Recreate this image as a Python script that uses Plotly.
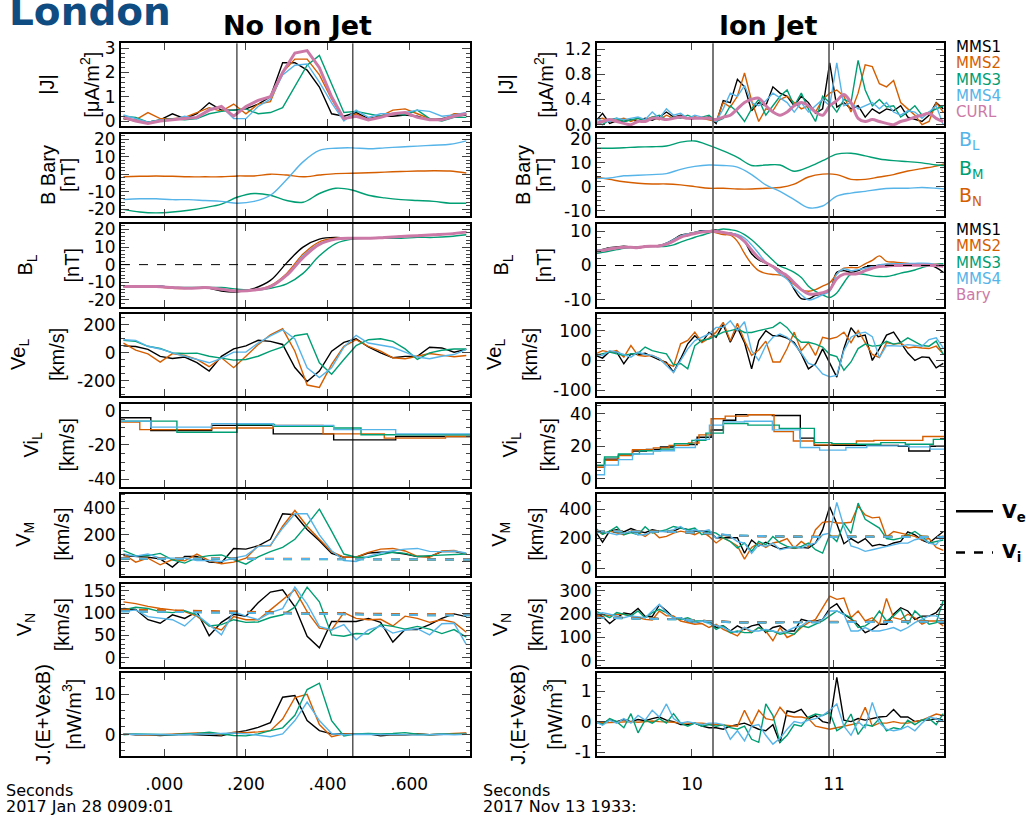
import plotly.graph_objects as go

W, H = 1026, 825
TICK_FONT = dict(family="DejaVu Sans", size=17, color="black")
TITLE_FONT = dict(family="Liberation Sans", size=20, color="black")
K1, K2, K3, K4, KC = "#000000", "#d55e00", "#009e73", "#56b4e9", "#cc79a7"

# ---------------- sample times ----------------
T_L = [round(-0.10 + 0.03 * k, 3) for k in range(29)]
TB_L = [round(-0.10 + 0.04 * k, 3) for k in range(22)]
T_R = [round(9.32 + 0.05 * k, 3) for k in range(50)]
TB_R = [round(9.32 + 0.1 * k, 2) for k in range(25)] + [11.78]

# ---------------- No Ion Jet (left) ----------------
J_L1 = [0.1,0.0,-0.05,0.05,0.3,0.1,0.3,0.75,0.45,0.45,0.5,0.7,1.0,2.4,2.4,2.1,1.4,0.3,0.2,0.35,0.1,0.2,0.2,0.25,0.2,0.05,0.1,0.2,0.25]
J_L2 = [0.1,0.05,0.35,0.1,0.1,0.15,0.35,0.55,0.4,0.7,0.3,0.7,0.8,2.0,2.55,2.55,1.9,0.9,0.05,0.3,0.05,0.2,0.45,0.5,0.3,0.1,0.05,0.3,0.3]
J_L3 = [0.2,0.15,-0.05,0.05,0.1,0.05,0.1,0.3,0.4,0.45,0.5,0.3,0.35,0.55,1.4,2.3,2.7,1.5,0.35,0.4,0.3,0.2,0.3,0.25,0.45,0.1,0.0,0.15,0.15]
J_L4 = [0.25,0.1,-0.05,0.05,0.05,0.2,0.1,0.5,0.6,0.1,0.1,0.6,0.9,1.9,2.3,2.35,1.6,0.75,0.0,0.45,0.15,0.3,0.3,0.35,0.45,0.4,0.2,0.25,0.35]
J_LC = [0.15,0.0,-0.1,0.0,0.05,0.1,0.15,0.45,0.6,0.2,0.6,0.85,1.0,2.0,2.8,2.9,2.2,1.0,0.1,0.2,0.05,0.15,0.3,0.35,0.15,0.05,0.05,0.2,0.3]

BBAR_L_BL = [-14.5,-14,-14,-14.5,-14.5,-15,-15.5,-16.5,-15.5,-12,-3,7,13.5,14.8,15,14.5,15,15.5,16,16.5,17,19]
BBAR_L_BM = [-20,-21.5,-22,-21.5,-20.5,-19,-17,-13,-11,-12,-15,-16,-11,-8,-9,-12,-13.5,-14.5,-15,-15.5,-16.5,-16.5]
BBAR_L_BN = [-1.5,-1.2,-1,-1.2,-1.5,-1.5,-1.5,-1,-1,0,-0.5,-1.5,-0.5,0.3,0.5,0.8,1.2,1.5,1.8,2,1.8,0.7]

BL_L1 = [-12.5,-12.5,-12,-13,-13.5,-13,-15,-15.5,-13.5,-9,1,10,14.5,15.5,15,15,15.5,16,16.5,17,17.5,18.5]
BL_L2 = [-12.5,-12.5,-12.5,-13.5,-13.5,-13,-14,-15,-14.5,-12,-5,6,13,15,15,15,15.5,16,16.5,17,17.5,18.5]
BL_L3 = [-12.5,-12.5,-12.5,-13,-13,-13,-13,-14,-14.5,-13.5,-11,-5,5,12,14.5,15,15,15,15.5,15.5,16,17]
BL_L4 = [-12.5,-12.5,-12,-13,-13.5,-13,-14,-15,-14.5,-12.5,-6,5,12,14.5,15,15,15.5,16,16.5,17,17.5,18.5]
BL_LB = [-12.5,-12.5,-12.5,-13,-13.5,-13,-14,-15,-14.5,-12.5,-6,4,11.5,14.5,15,15,15.5,16,16.5,17,17.5,18.5]

VEL_L1 = [50,45,25,-25,-40,-30,-70,-130,-25,28,50,90,82,60,-105,-205,-130,12,75,100,42,0,-35,-25,-25,40,35,5,25]
VEL_L2 = [70,19,-7,-66,-5,-19,-47,-99,-35,-106,-24,59,129,172,12,-230,-247,-82,47,94,47,12,-35,-42,-24,-5,-16,-28,-19]
VEL_L3 = [89,82,47,31,0,-5,-2,-24,-38,-52,-47,-24,12,42,122,136,-71,-153,-47,52,94,101,82,28,-47,0,19,28,28]
VEL_L4 = [94,89,47,28,0,-24,-47,-71,-40,5,5,70,122,165,100,-106,-176,-106,40,125,70,55,40,5,-30,-42,-24,-12,25]

VIL_L1_T = [-0.106,-0.033,0.116,0.267,0.415,0.567,0.749]
VIL_L1 = [-4,-11.5,-8.5,-13.5,-17,-15,-15]
VIL_L2_T = [-0.106,-0.06,0.116,0.267,0.389,0.539,0.689,0.749]
VIL_L2 = [-6.5,-11,-10,-8.5,-13.5,-16,-15,-15]
VIL_L3_T = [-0.106,0.031,0.178,0.27,0.415,0.482,0.749]
VIL_L3 = [-6,-12.5,-8,-9,-10,-14,-14]
VIL_L4_T = [-0.106,-0.033,0.116,0.267,0.415,0.567,0.749]
VIL_L4 = [-6,-9.5,-7.5,-8.5,-11,-13.5,-13.5]

VM_L1 = [44,39,32,20,-42,37,37,-5,-10,98,93,118,167,358,351,240,155,61,32,32,64,69,69,56,37,37,74,76,56]
VM_L2 = [56,-5,25,-25,15,5,56,7,-17,-5,25,118,118,265,383,265,167,74,32,32,69,93,98,79,39,32,79,83,56]
VM_L3 = [81,44,44,61,12,-12,29,44,49,12,-20,34,74,106,167,277,393,228,56,32,32,52,69,61,37,44,49,49,56]
VM_L4 = [56,39,56,25,25,25,7,7,0,25,44,113,123,250,358,358,200,81,7,0,39,64,81,93,98,76,74,79,64]

VN_L1 = [110,108,85,77,96,88,103,49,79,97,93,123,147,152,114,48,22,81,81,81,88,79,35,63,63,74,88,98,92]
VN_L2 = [125,121,115,110,107,103,93,71,62,92,85,85,107,129,152,103,66,62,101,88,85,86,71,93,88,79,85,79,57]
VN_L3 = [107,113,110,103,101,105,96,71,74,85,79,80,90,96,113,158,125,51,48,54,53,74,70,64,70,64,54,63,46]
VN_L4 = [103,107,92,88,85,71,96,74,51,103,93,85,101,110,158,120,70,62,74,40,62,71,55,62,65,51,76,77,29]

TVI_L = [-0.106,0.05,0.2,0.35,0.5,0.65,0.749]
VIM_L1 = [22,20,19,18,17,16,16]
VIM_L2 = [24,22,20,18,17,16,16]
VIM_L3 = [20,19,18,17,16,15,15]
VIM_L4 = [22,21,19,18,17,16,15]
VIN_L1 = [105,103,101,99,97,96,96]
VIN_L2 = [108,106,103,100,98,97,97]
VIN_L3 = [104,102,100,98,96,95,95]
VIN_L4 = [104,102,100,98,96,95,95]

JE_L1 = [0.2,0.0,0.0,-0.2,0.0,0.1,0.0,-0.1,-0.3,0.5,1.0,1.8,3.0,9.3,9.7,3.5,1.0,0.2,0.2,0.1,0.2,-0.3,0.0,-0.1,0.2,0.0,0.1,0.2,0.3]
JE_L2 = [0.2,0.0,-0.1,0.0,0.1,0.2,0.4,0.3,0.0,0.6,0.5,0.7,1.0,3.9,9.2,10.0,2.5,-0.5,0.2,0.2,0.1,0.1,0.0,0.0,0.1,0.0,0.2,0.3,0.4]
JE_L3 = [0.0,0.2,0.1,0.0,0.0,0.2,0.3,0.6,0.2,-0.2,-0.3,0.2,1.0,1.7,4.8,11.2,12.8,3.5,-0.3,0.2,0.3,0.2,0.3,0.5,0.1,0.0,0.2,0.1,0.2]
JE_L4 = [0.1,0.1,0.0,0.0,0.1,0.0,0.2,0.1,0.3,0.4,0.2,-0.2,-0.5,0.2,3.5,8.1,3.5,0.3,0.0,0.1,0.1,0.0,0.1,0.0,-0.1,0.0,0.1,0.0,0.1]

# ---------------- Ion Jet (right) ----------------
J_R1 = [0.05,0.18,0.02,0.06,0.05,0.08,0.05,0.1,0.07,0.12,0.2,0.12,0.15,0.1,0.12,0.1,0.12,0.02,0.38,0.35,0.72,0.6,0.22,0.35,0.3,0.6,0.5,0.45,0.3,0.45,0.35,0.18,0.25,0.98,0.28,0.35,0.25,0.3,0.12,0.25,0.18,0.25,0.22,0.3,0.12,0.08,0.05,0.15,0.35,0.25]
J_R2 = [0.08,0.1,0.05,0.08,0.1,0.05,0.1,0.08,0.12,0.08,0.15,0.1,0.12,0.1,0.12,0.1,0.08,0.05,0.35,0.28,0.45,0.82,0.38,0.05,0.25,0.22,0.4,0.45,0.35,0.25,0.3,0.2,0.4,0.5,0.55,0.45,0.2,0.5,0.95,0.92,0.65,0.6,0.7,0.35,0.25,0.15,0.0,0.05,0.35,0.2]
J_R3 = [0.05,0.0,0.08,0.1,0.05,0.08,0.1,0.05,0.12,0.15,0.08,0.12,0.1,0.15,0.1,0.12,0.15,0.05,0.1,0.3,0.2,0.05,0.25,0.4,0.15,0.3,0.45,0.55,0.3,0.5,0.25,0.05,0.45,0.35,0.2,0.4,0.35,1.02,0.55,0.3,0.4,0.28,0.3,0.12,0.2,0.3,0.15,0.2,0.25,0.3]
J_R4 = [0.1,0.05,0.05,0.1,0.08,0.1,0.12,0.08,0.2,0.1,0.25,0.15,0.18,0.1,0.15,0.12,0.1,0.05,0.25,0.5,0.45,0.62,0.35,0.3,0.38,0.5,0.42,0.35,0.2,0.35,0.2,0.3,0.4,0.3,0.98,0.3,0.35,0.25,0.3,0.35,0.25,0.35,0.2,0.15,0.22,0.2,0.1,0.2,0.3,0.0]
J_RC = [0.02,0.05,0.08,0.05,0.02,0.0,0.05,0.05,0.1,0.1,0.08,0.1,0.12,0.1,0.1,0.1,0.1,0.08,0.12,0.15,0.25,0.35,0.4,0.42,0.3,0.2,0.15,0.2,0.3,0.35,0.3,0.2,0.15,0.3,0.38,0.48,0.35,0.1,0.05,0.08,0.05,0.02,0.0,0.05,0.08,0.12,0.15,0.18,0.1,0.05]

BBAR_R_BL = [3.4,3.6,4.5,4.7,5,5.4,7.2,8.4,9,8.8,8.1,5,0.7,-2,-5.4,-8.8,-8.1,-4,-2.7,-2,-1.1,-0.7,-0.7,-0.4,-0.7,-1]
BBAR_R_BM = [16,16,16.2,16.5,16.6,16.9,18.5,19,17.2,14.9,12.2,8.8,9,9,6.4,8.1,10.8,13.5,13.9,12.8,11.5,10.8,10.4,9.9,9,8.8]
BBAR_R_BN = [4,3,2,1.4,1.1,1.1,0.7,0,-0.7,-0.7,-1,-1,-0.7,-0.4,1.0,4.0,5.2,5.0,3.0,3.0,4.0,5.0,6.5,7.5,8.5,9.5]

BL_R1 = [4.3,4.7,5.2,5.4,5.6,5.4,5.2,5.6,5.6,5.8,6.5,7.6,8.8,9.2,9.6,10.1,10.1,10.3,9.6,9.4,8.8,7.0,3.4,1.6,0.7,-0.2,-1.5,-3.3,-6.9,-9.6,-9.7,-8.7,-8.2,-7.3,-2.0,-1.5,-2.0,-1.5,-0.4,-0.2,0.1,0.3,0.3,0.3,0.3,0.3,0.1,0.1,-0.6,-2.0]
BL_R2 = [4.0,4.5,5.0,5.2,5.4,5.4,5.2,5.4,5.6,5.8,6.3,7.4,8.6,9.2,9.6,9.8,9.9,9.5,9.0,8.8,7.0,3.5,0.5,-1.5,-2.3,-2.6,-2.8,-3.5,-5.5,-7.0,-7.5,-7.0,-6.0,-5.0,-2.5,-0.8,-0.6,-0.6,0.5,1.5,2.8,1.2,1.0,0.8,0.6,0.5,0.4,0.3,0.4,0.4]
BL_R3 = [3.5,3.8,4.2,4.6,5.0,5.2,5.4,5.5,5.6,5.5,5.6,6.0,6.8,7.5,8.2,8.8,9.4,10.2,10.6,10.4,10.0,9.0,7.5,5.6,3.5,1.5,-0.2,-1.0,-2.0,-3.5,-6.0,-7.5,-8.5,-9.3,-8.0,-5.0,-2.5,-2.4,-2.6,-3.0,-3.2,-3.2,-2.8,-2.2,-1.8,-1.3,-0.6,0.0,0.3,0.5]
BL_R4 = [4.5,4.6,5.0,5.2,5.3,5.3,5.0,5.5,5.5,5.8,6.5,7.5,8.6,9.2,9.6,10.0,10.1,10.0,9.6,9.3,9.0,8.0,6.0,3.5,1.0,-0.5,-2.5,-4.0,-6.5,-8.5,-10.0,-9.5,-8.5,-7.5,-2.5,-1.0,-1.5,-1.2,-0.8,-0.3,0.2,0.4,0.5,0.5,0.6,0.6,0.7,0.6,0.3,0.0]
BL_RB = [4.1,4.4,4.8,5.1,5.3,5.3,5.2,5.5,5.6,5.7,6.2,7.1,8.2,8.8,9.3,9.7,9.9,9.9,9.6,9.2,8.6,7.0,4.5,2.2,0.8,-0.3,-1.8,-3.0,-5.0,-7.0,-8.2,-8.3,-7.9,-7.0,-3.8,-2.5,-2.5,-2.3,-1.5,-0.8,-0.3,-0.2,0.0,0.0,0.1,0.1,0.1,0.1,0.0,-0.2]

VEL_R1 = [17,8,30,28,-11,22,20,24,13,2,-6,-39,6,56,83,61,94,78,120,61,110,60,-28,67,100,83,83,75,60,22,-28,-11,39,-6,-56,40,110,80,85,0,40,85,95,60,25,0,12,10,-25,-10]
VEL_R2 = [22,33,28,33,11,50,17,14,17,6,-11,-20,56,67,95,60,75,95,128,65,125,66,17,35,65,-5,-5,40,95,33,60,17,78,72,78,95,60,100,60,20,10,60,55,58,42,45,42,40,48,22]
VEL_R3 = [17,22,28,22,17,22,24,45,33,27,22,-15,-10,-28,50,68,72,83,95,100,106,94,94,100,106,111,128,110,80,61,61,55,45,20,13,-33,-5,40,55,48,50,64,55,60,76,62,50,48,65,20]
VEL_R4 = [22,17,33,28,20,11,28,20,17,6,-17,-40,0,39,67,78,89,111,111,133,100,130,33,0,50,78,89,78,55,25,-10,-17,-45,-55,-50,33,78,90,95,80,10,50,50,48,53,50,48,70,76,42]

VIL_R1_T = [9.319,9.384,9.482,9.581,9.679,9.778,9.876,9.975,10.036,10.135,10.221,10.308,10.566,10.763,10.862,11.158,11.453,11.527,11.675,11.786]
VIL_R1 = [8,12,14.5,17,18,19.5,20.5,21,25.5,30,36,39.5,39,25,20.5,20.5,20,17,20,20]
VIL_R2_T = [9.319,9.384,9.482,9.581,9.728,9.839,9.975,10.049,10.135,10.234,10.394,10.578,10.714,10.862,10.985,11.158,11.281,11.626,11.786]
VIL_R2 = [7,11.3,14.3,17.8,19,20.5,22,27,37,38.6,39.4,29,23.2,20.8,21.2,23.2,23.6,26,26]
VIL_R3_T = [9.319,9.384,9.482,9.63,9.778,9.876,9.999,10.098,10.221,10.394,10.615,10.862,10.985,11.158,11.33,11.503,11.7,11.786]
VIL_R3 = [8.3,13.3,15.2,17.2,18.2,21.6,23.6,28.1,34,33,31,22.2,21.6,21.2,22.2,21.2,24.2,24.2]
VIL_R4_T = [9.319,9.384,9.482,9.581,9.728,9.876,10.024,10.123,10.221,10.369,10.566,10.763,10.899,11.084,11.231,11.527,11.675,11.786]
VIL_R4 = [2.4,8.3,11.7,15.2,17.2,19.2,24.2,33,35,35.4,30.1,19.2,17.6,19.2,20.2,19.6,18.2,18.2]

VM_R1 = [248,175,250,260,245,268,250,240,260,250,248,250,272,260,250,250,248,205,205,208,205,100,190,150,175,150,130,140,135,140,135,170,260,415,300,165,200,170,200,150,160,150,170,180,245,225,190,170,210,248]
VM_R2 = [260,230,250,240,226,250,240,214,250,205,215,237,250,240,226,250,215,170,205,180,150,60,140,170,140,170,180,200,135,180,145,260,310,316,305,305,310,420,360,340,345,210,248,237,226,215,190,200,140,120]
VM_R3 = [270,230,250,280,226,240,226,280,237,248,260,282,271,260,271,226,248,237,205,180,135,170,113,180,158,214,170,147,135,147,170,124,101,226,180,305,235,440,330,300,271,200,192,203,226,248,214,169,180,190]
VM_R4 = [237,248,237,226,237,248,226,226,248,248,248,260,282,248,260,248,260,203,226,214,180,169,100,158,147,169,124,135,147,135,158,169,226,237,445,280,150,135,113,124,135,147,158,169,169,192,203,169,158,220]

VN_R1 = [207,190,160,185,205,200,225,190,190,240,215,185,185,170,164,170,172,143,150,128,150,135,150,157,121,143,150,128,128,178,170,170,178,225,245,200,180,155,121,135,157,157,200,228,214,178,192,192,207,245]
VN_R2 = [193,200,193,200,200,193,185,178,175,214,193,193,171,164,157,160,143,157,135,121,107,143,121,143,128,86,143,100,114,143,164,178,228,278,264,270,185,214,171,185,157,268,185,178,200,185,157,171,171,150]
VN_R3 = [214,200,185,207,200,193,214,185,207,221,207,185,178,185,171,171,164,135,150,121,128,121,121,143,128,128,114,121,114,150,143,157,171,193,214,200,185,143,150,171,214,171,193,221,157,214,185,157,164,260]
VN_R4 = [200,207,200,193,185,193,190,185,214,243,207,185,185,171,164,171,160,150,143,128,121,143,128,128,135,128,121,128,143,150,171,164,178,214,214,200,128,128,143,128,128,135,143,128,143,164,178,193,193,171]

TVI_R = [9.32,9.6,9.9,10.1,10.3,10.6,10.9,11.2,11.5,11.78]
VIM_R1 = [249,247,244,233,219,214,210,212,212,211]
VIM_R2 = [252,250,246,232,218,214,212,214,214,212]
VIM_R3 = [250,248,245,234,220,215,211,213,213,211]
VIM_R4 = [250,248,245,235,220,215,210,212,212,210]
VIN_R1 = [186,183,179,171,166,166,166,169,169,169]
VIN_R2 = [187,184,179,171,166,166,166,169,170,170]
VIN_R3 = [185,182,178,170,165,165,165,168,168,168]
VIN_R4 = [185,182,178,170,165,165,165,168,168,168]

JE_R1 = [0,-0.05,0.05,0,0.07,0,0.07,0.03,0.1,0.15,0.05,0,-0.1,-0.1,-0.05,-0.15,-0.2,-0.2,-0.25,-0.15,-0.1,-0.05,-0.15,-0.25,-0.3,-0.1,-0.7,0.35,0.3,0.4,0.1,0.2,0.0,-0.05,1.45,0.05,0.0,0.1,0.05,0.1,0.15,0.17,0.4,0.15,0.15,0.0,0.05,0.05,0.1,0.05]
JE_R2 = [-0.05,-0.05,-0.03,-0.02,0.0,0.0,-0.02,0.0,0.02,0.0,0.0,-0.02,-0.05,-0.05,-0.05,-0.05,-0.08,-0.1,-0.1,-0.12,-0.15,0.37,-0.1,0.37,0.1,0.05,0.47,0.2,0.15,0.15,0.1,-0.15,-0.2,-0.25,-0.2,-0.15,-0.1,-0.05,0.47,-0.15,-0.05,-0.05,0.0,-0.05,-0.05,0.0,0.05,0.15,0.25,0.2]
JE_R3 = [0,-0.1,0.1,0,-0.2,0.26,-0.37,0.05,-0.05,0.1,-0.05,0.26,-0.05,-0.15,-0.05,-0.15,-0.1,-0.15,-0.1,-0.2,-0.25,-0.15,-0.58,-0.68,0.58,0.2,-0.68,-0.45,-0.1,-0.15,0.15,0.25,0.2,0.3,-0.3,-0.15,0.25,-0.42,-0.1,-0.15,0.1,-0.3,-0.2,-0.25,0.05,-0.1,0.05,0.1,-0.1,0.26]
JE_R4 = [0,-0.12,0.05,-0.05,0.1,-0.05,0.2,0.05,0.37,0.15,0.58,0.1,-0.05,0,-0.05,-0.1,-0.05,-0.05,-0.1,-0.58,-0.3,-0.63,-0.15,-0.1,-0.45,-0.74,-0.55,-0.25,0,-0.05,0.05,0.1,0.2,0.37,0.58,-0.15,-0.45,0,-0.2,0.63,-0.05,-0.25,-0.3,-0.25,-0.15,-0.3,-0.05,0.15,0.1,0]

# event boundaries
EVT_L = [0.178, 0.462]
EVT_R = [10.148, 10.965]

# ---------------- layout geometry (pixels) ----------------
COLS = {"L": (121, 470), "R": (597, 944)}
XRANGE = {"L": [-0.106, 0.749], "R": [9.331, 11.775]}
XTICKS = {"L": ([0, 0.2, 0.4, 0.6], [".000", ".200", ".400", ".600"]),
          "R": ([10, 11], ["10", "11"])}
ROW_TOP = [39, 131, 223, 314, 406, 497, 589, 680]
ROW_H = 84

# per-panel y axis: range, major tick values, minor step, title lines and their x
PANELS = {
    "L": [
        ([-0.2, 3.2], [0, 1, 2, 3], 0.2, "|J|", "[μA/m<sup>2</sup>]", 47, 90),
        ([-24, 23], [-20, -10, 0, 10, 20], 2, "B Bary", "[nT]", 48, 68),
        ([-24, 23], [-20, -10, 0, 10, 20], 2, "B<sub>L</sub>", "[nT]", 27, 72),
        ([-310, 280], [-200, 0, 200], 50, "Ve<sub>L</sub>", "[km/s]", 20, 57),
        ([-44.5, 4], [-40, -20, 0], 5, "Vi<sub>L</sub>", "[km/s]", 32, 67),
        ([-110, 510], [0, 200, 400], 50, "V<sub>M</sub>", "[km/s]", 25, 62),
        ([-20, 165], [0, 50, 100, 150], 10, "V<sub>N</sub>", "[km/s]", 25, 62),
        ([-5.3, 15.2], [0, 10], 2, "J.(E+VexB)", "[nW/m<sup>3</sup>]", 43, 72),
    ],
    "R": [
        ([-0.02, 1.29], [0.0, 0.4, 0.8, 1.2], 0.1, "|J|", "[μA/m<sup>2</sup>]", 506, 544),
        ([-12.4, 22], [-10, 0, 10, 20], 2, "B Bary", "[nT]", 523, 544),
        ([-12, 12], [-10, 0, 10], 2, "B<sub>L</sub>", "[nT]", 503, 544),
        ([-120, 157], [-100, 0, 100], 20, "Ve<sub>L</sub>", "[km/s]", 496, 530),
        ([-5, 46], [0, 20, 40], 5, "Vi<sub>L</sub>", "[km/s]", 511, 548),
        ([-55, 505], [0, 200, 400], 50, "V<sub>M</sub>", "[km/s]", 501, 536),
        ([-25, 330], [0, 100, 200, 300], 20, "V<sub>N</sub>", "[km/s]", 501, 536),
        ([-1.13, 1.58], [-1, 0, 1], 0.2, "J.(E+VexB)", "[nW/m<sup>3</sup>]", 518, 553),
    ],
}


def ax_id(col, row):
    return row + 1 + (0 if col == "L" else 8)


def ref(prefix, n):
    return prefix if n == 1 else f"{prefix}{n}"


def fmt(v, col, row):
    if col == "R" and row == 0:
        return f"{v:.1f}"
    return str(int(v))


fig = go.Figure()


def add(col, row, x, y, color, width=1.4, dash="solid", shape="linear"):
    n = ax_id(col, row)
    fig.add_trace(go.Scatter(
        x=x, y=y, mode="lines",
        line=dict(color=color, width=width, dash=dash, shape=shape),
        xaxis=ref("x", n), yaxis=ref("y", n), showlegend=False, hoverinfo="skip"))


SC = [K1, K2, K3, K4]

# left column
for ys, c in zip([J_L1, J_L2, J_L3, J_L4], SC):
    add("L", 0, T_L, ys, c)
add("L", 0, T_L, J_LC, KC, width=3)
for ys, c in zip([BBAR_L_BN, BBAR_L_BM, BBAR_L_BL], [K2, K3, K4]):
    add("L", 1, TB_L, ys, c, shape="spline")
for ys, c in zip([BL_L1, BL_L2, BL_L3, BL_L4], SC):
    add("L", 2, TB_L, ys, c, shape="spline")
add("L", 2, TB_L, BL_LB, KC, width=3, shape="spline")
for ys, c in zip([VEL_L1, VEL_L2, VEL_L3, VEL_L4], SC):
    add("L", 3, T_L, ys, c)
for ts, ys, c in zip([VIL_L1_T, VIL_L2_T, VIL_L3_T, VIL_L4_T], [VIL_L1, VIL_L2, VIL_L3, VIL_L4], SC):
    add("L", 4, ts, ys, c, shape="hv")
for ys, c in zip([VM_L1, VM_L2, VM_L3, VM_L4], SC):
    add("L", 5, T_L, ys, c)
for ys, c in zip([VIM_L1, VIM_L3, VIM_L2, VIM_L4], [K1, K3, K2, K4]):
    add("L", 5, TVI_L, ys, c, dash="dash", width=2)
for ys, c in zip([VN_L1, VN_L2, VN_L3, VN_L4], SC):
    add("L", 6, T_L, ys, c)
for ys, c in zip([VIN_L1, VIN_L3, VIN_L2, VIN_L4], [K1, K3, K2, K4]):
    add("L", 6, TVI_L, ys, c, dash="dash", width=2)
for ys, c in zip([JE_L1, JE_L2, JE_L3, JE_L4], SC):
    add("L", 7, T_L, ys, c)

# right column
for ys, c in zip([J_R1, J_R2, J_R3, J_R4], SC):
    add("R", 0, T_R, ys, c)
add("R", 0, T_R, J_RC, KC, width=3, shape="spline")
for ys, c in zip([BBAR_R_BN, BBAR_R_BM, BBAR_R_BL], [K2, K3, K4]):
    add("R", 1, TB_R, ys, c, shape="spline")
for ys, c in zip([BL_R1, BL_R2, BL_R3, BL_R4], SC):
    add("R", 2, T_R, ys, c, shape="spline")
add("R", 2, T_R, BL_RB, KC, width=3, shape="spline")
for ys, c in zip([VEL_R1, VEL_R2, VEL_R3, VEL_R4], SC):
    add("R", 3, T_R, ys, c)
for ts, ys, c in zip([VIL_R1_T, VIL_R2_T, VIL_R3_T, VIL_R4_T], [VIL_R1, VIL_R2, VIL_R3, VIL_R4], SC):
    add("R", 4, ts, ys, c, shape="hv")
for ys, c in zip([VM_R1, VM_R2, VM_R3, VM_R4], SC):
    add("R", 5, T_R, ys, c)
for ys, c in zip([VIM_R1, VIM_R3, VIM_R2, VIM_R4], [K1, K3, K2, K4]):
    add("R", 5, TVI_R, ys, c, dash="dash", width=2)
for ys, c in zip([VN_R1, VN_R2, VN_R3, VN_R4], SC):
    add("R", 6, T_R, ys, c)
for ys, c in zip([VIN_R1, VIN_R3, VIN_R2, VIN_R4], [K1, K3, K2, K4]):
    add("R", 6, TVI_R, ys, c, dash="dash", width=2)
for ys, c in zip([JE_R1, JE_R2, JE_R3, JE_R4], SC):
    add("R", 7, T_R, ys, c)

# ---------------- axes ----------------
layout = {}
annotations = []
shapes = []
for col in ("L", "R"):
    x0, x1 = COLS[col]
    for row in range(8):
        n = ax_id(col, row)
        top = ROW_TOP[row]
        yr, yt, ymin, t1, t2, tx1, tx2 = PANELS[col][row]
        xkey = "xaxis" if n == 1 else f"xaxis{n}"
        ykey = "yaxis" if n == 1 else f"yaxis{n}"
        layout[xkey] = dict(
            domain=[x0 / W, x1 / W], anchor=ref("y", n), range=XRANGE[col],
            tickmode="array", tickvals=XTICKS[col][0], ticktext=XTICKS[col][1],
            showticklabels=(row == 7), ticks="inside", ticklen=7, tickwidth=1.2,
            ticklabelstandoff=12,
            showline=True, linecolor="black", linewidth=1.8, mirror="allticks",
            showgrid=False, zeroline=False, tickfont=TICK_FONT)
        layout[ykey] = dict(
            domain=[1 - (top + ROW_H) / H, 1 - top / H], anchor=ref("x", n), range=yr,
            tickmode="array", tickvals=yt, ticktext=[fmt(v, col, row) for v in yt],
            ticks="inside", ticklen=8, tickwidth=1.2,
            minor=dict(dtick=ymin, tick0=0, ticks="inside", ticklen=4, tickwidth=1, showgrid=False),
            showline=True, linecolor="black", linewidth=1.8, mirror="allticks",
            showgrid=False, zeroline=False, tickfont=TICK_FONT)
        yc = 1 - (top + ROW_H / 2) / H
        for txt, tx in ((t1, tx1), (t2, tx2)):
            annotations.append(dict(
                text=txt, x=tx / W, y=yc, xref="paper", yref="paper", textangle=-90,
                xanchor="center", yanchor="middle", showarrow=False, font=TITLE_FONT))

    # event lines through the whole column
    evts = EVT_L if col == "L" else EVT_R
    for e in evts:
        shapes.append(dict(
            type="line", xref=ref("x", ax_id(col, 0)), yref="paper", x0=e, x1=e,
            y0=1 - (ROW_TOP[7] + ROW_H) / H, y1=1 - ROW_TOP[0] / H,
            line=dict(color="black" if col == "L" else "#555555", width=1 if col == "L" else 1.6)))
    # B_L zero reference
    n3 = ax_id(col, 2)
    shapes.append(dict(type="line", xref=f"{ref('x', n3)} domain", yref=ref("y", n3),
                       x0=0, x1=1, y0=0, y1=0, line=dict(color="black", width=1, dash="dash")))


def label(text, xpx, ypx, color="black", size=15, family="DejaVu Sans", xanchor="left", bold=False):
    annotations.append(dict(
        text=f"<b>{text}</b>" if bold else text, x=xpx / W, y=1 - ypx / H,
        xref="paper", yref="paper", xanchor=xanchor, yanchor="middle", showarrow=False,
        font=dict(family=family, size=size, color=color)))


# headings
label("No Ion Jet", 297, 21, size=27, xanchor="center", bold=True)
label("Ion Jet", 768, 21, size=27, xanchor="center", bold=True)
label("London", 7, 7, color="#0f4c81", size=39, bold=True)

# spacecraft / component keys
for i, (txt, c) in enumerate(zip(["MMS1", "MMS2", "MMS3", "MMS4", "CURL"], [K1, K2, K3, K4, KC])):
    label(txt, 954, 43 + 16.5 * i, color=c)
for txt, c, yy in (("B<sub>L</sub>", K4, 138), ("B<sub>M</sub>", K3, 167), ("B<sub>N</sub>", K2, 195)):
    label(txt, 957, yy, color=c, size=19)
for i, (txt, c) in enumerate(zip(["MMS1", "MMS2", "MMS3", "MMS4", "Bary"], [K1, K2, K3, K4, KC])):
    label(txt, 954, 229 + 16.5 * i, color=c)
label("V<sub>e</sub>", 1000, 516, size=19, bold=True)
label("V<sub>i</sub>", 1000, 557, size=19, bold=True)
shapes.append(dict(type="line", xref="paper", yref="paper", x0=956 / W, x1=993 / W,
                   y0=1 - 515 / H, y1=1 - 515 / H, line=dict(color="black", width=2.5)))
shapes.append(dict(type="line", xref="paper", yref="paper", x0=956 / W, x1=993 / W,
                   y0=1 - 557 / H, y1=1 - 557 / H, line=dict(color="black", width=2.5, dash="dash")))

# time annotations under each column
label("Seconds", 4, 799, size=16)
label("2017 Jan 28 0909:01", 4, 815, size=16)
label("Seconds", 481, 799, size=16)
label("2017 Nov 13 1933:", 481, 815, size=16)

fig.update_layout(
    width=W, height=H, margin=dict(l=0, r=0, t=0, b=0),
    paper_bgcolor="white", plot_bgcolor="white", showlegend=False,
    annotations=annotations, shapes=shapes, **layout)

fig.write_html("out.html")
